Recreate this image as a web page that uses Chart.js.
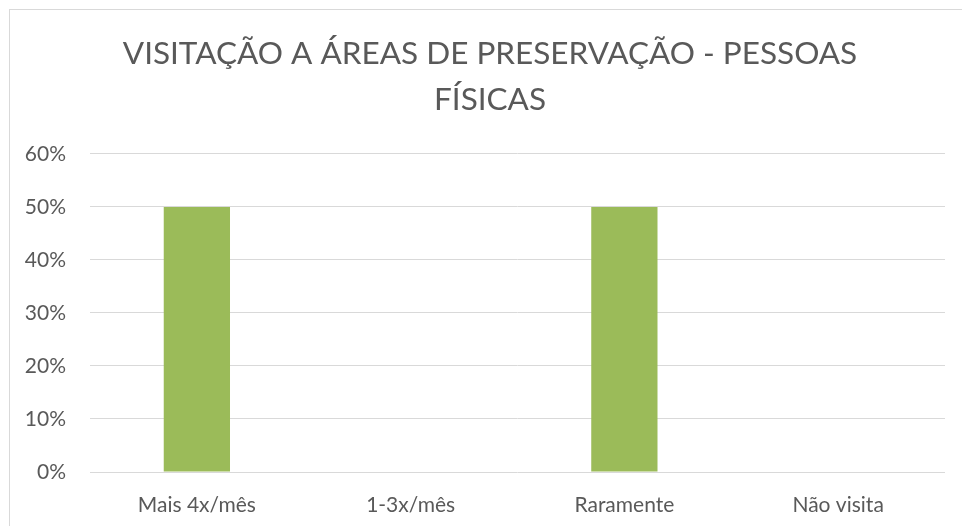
<!DOCTYPE html>
<html>
<head>
<meta charset="utf-8">
<script src="https://cdn.jsdelivr.net/npm/chart.js@4"></script>
<style>
  html, body { margin: 0; padding: 0; background: #fff; overflow: hidden; }
  #wrap { position: relative; width: 962px; height: 526px; }
  #frame { position: absolute; left: 9px; top: 9px; width: 980px; height: 540px; border: 1px solid #d9d9d9; }
  canvas { position: absolute; left: 0; top: 0; }
</style>
</head>
<body>
<div id="wrap">
  <div id="frame"></div>
  <canvas id="chart" width="962" height="526"></canvas>
</div>
<script>
// Chart data
const titleLines = ['VISITAÇÃO A ÁREAS DE PRESERVAÇÃO - PESSOAS', 'FÍSICAS'];
const categories = ['Mais 4x/mês', '1-3x/mês', 'Raramente', 'Não visita'];
const shares = [0.5, 0, 0.5, 0];
const yTicks = [0, 0.1, 0.2, 0.3, 0.4, 0.5, 0.6];

const textColor = '#595959';
const fontFamily = 'Lato, "Open Sans", sans-serif';

// centre the title inside the chart frame rather than the whole canvas
const titleShift = {
  id: 'titleShift',
  afterLayout(chart) {
    if (chart.titleBlock) {
      chart.titleBlock.left = 35;
    }
  }
};

const ctx = document.getElementById('chart').getContext('2d');
new Chart(ctx, {
  type: 'bar',
  data: {
    labels: categories,
    datasets: [{
      data: shares,
      backgroundColor: '#9bbb59',
      categoryPercentage: 1,
      barPercentage: 0.31
    }]
  },
  options: {
    responsive: false,
    animation: false,
    layout: { padding: { left: 0, right: 17, top: 31, bottom: 0 } },
    plugins: {
      legend: { display: false },
      tooltip: { enabled: false },
      title: {
        display: true,
        text: titleLines,
        color: textColor,
        font: { family: fontFamily, size: 31.5, weight: 'normal', lineHeight: 1.46 },
        padding: { top: 0, bottom: 31 }
      }
    },
    scales: {
      x: {
        afterFit: s => { s.height = 54; },
        grid: { display: false, drawTicks: false },
        border: { display: false },
        ticks: { color: textColor, font: { family: fontFamily, size: 21 }, padding: 21 }
      },
      y: {
        min: 0,
        max: 0.6,
        afterFit: s => { s.width = 90; },
        afterBuildTicks: s => { s.ticks = yTicks.map(v => ({ value: v })); },
        grid: { color: '#d9d9d9', lineWidth: 1, drawTicks: false },
        border: { display: false },
        ticks: {
          color: textColor,
          font: { family: fontFamily, size: 21 },
          padding: 24,
          callback: v => Math.round(v * 100) + '%'
        }
      }
    }
  },
  plugins: [titleShift]
});
</script>
</body>
</html>
